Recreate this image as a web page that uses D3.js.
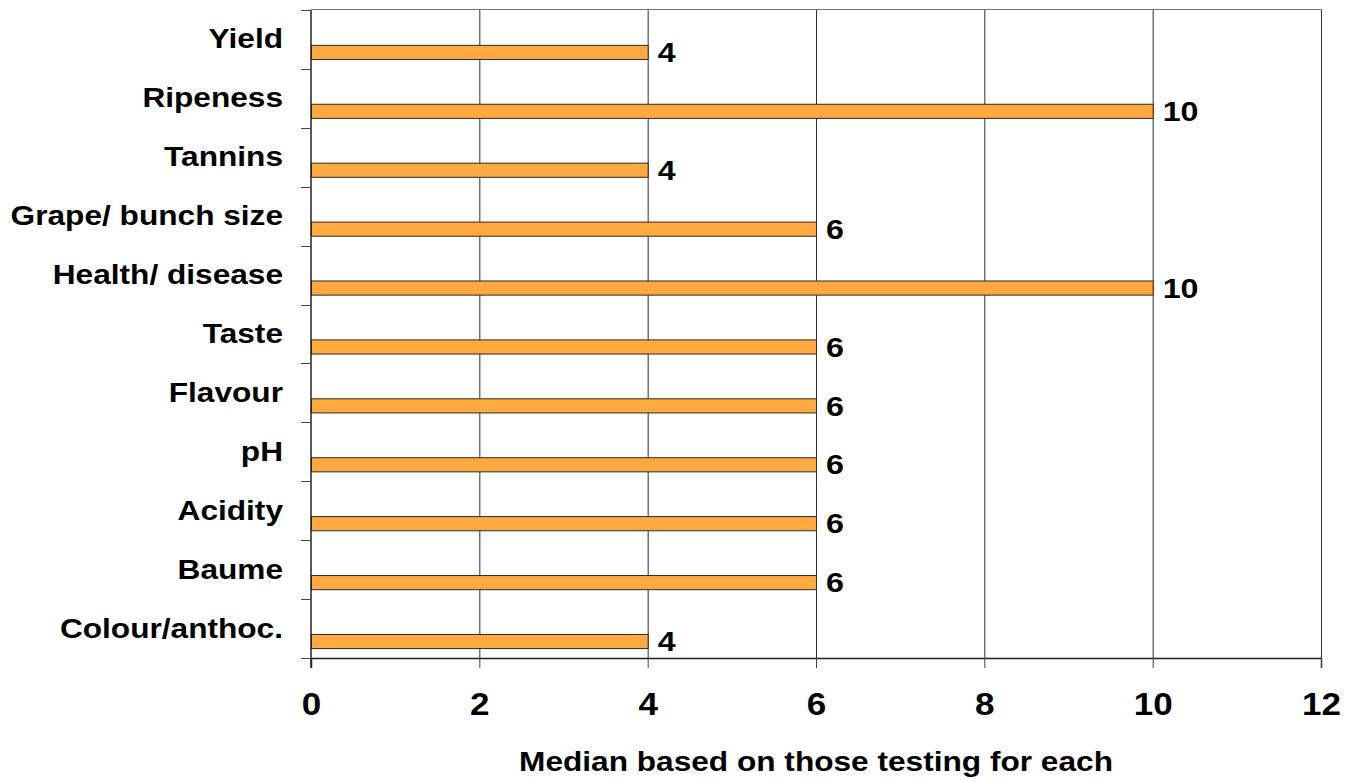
<!DOCTYPE html>
<html>
<head>
<meta charset="utf-8">
<script src="https://cdn.jsdelivr.net/npm/d3@7"></script>
<style>
  html, body { margin: 0; padding: 0; background: #fff; }
  svg { display: block; }
  text { font-family: "Liberation Sans", Arial, sans-serif; font-weight: bold; fill: #000; }
</style>
</head>
<body>
<svg id="chart" width="1351" height="781"></svg>
<script>
// Grape assessment criteria, listed top to bottom
const categories = ["Yield", "Ripeness", "Tannins", "Grape/ bunch size", "Health/ disease",
  "Taste", "Flavour", "pH", "Acidity", "Baume", "Colour/anthoc."];
const medians = [4, 10, 4, 6, 10, 6, 6, 6, 6, 6, 4];
const xTicks = [0, 2, 4, 6, 8, 10, 12];
const xTitle = "Median based on those testing for each";

const svg = d3.select("#chart");
const plot = { left: 311, right: 1321, top: 10, bottom: 658 };
const stretch = 1.13; // labels are set slightly wide

const x = d3.scaleLinear().domain([0, 12]).range([plot.left, plot.right]);
const y = d3.scaleBand().domain(categories).range([plot.top, plot.bottom]).padding(0);
const bw = y.bandwidth();

// vertical gridlines
svg.append("g")
  .selectAll("line")
  .data(xTicks.filter(t => t > 0 && t < 12))
  .join("line")
  .attr("x1", d => x(d) + 0.5).attr("x2", d => x(d) + 0.5)
  .attr("y1", plot.top).attr("y2", plot.bottom)
  .attr("stroke", "#2e2e2e").attr("stroke-width", 1);

// top and right frame
svg.append("line")
  .attr("x1", plot.left).attr("x2", plot.right + 0.5)
  .attr("y1", plot.top - 0.5).attr("y2", plot.top - 0.5)
  .attr("stroke", "#777").attr("stroke-width", 1.2);
svg.append("line")
  .attr("x1", plot.right + 0.5).attr("x2", plot.right + 0.5)
  .attr("y1", plot.top).attr("y2", plot.bottom)
  .attr("stroke", "#333").attr("stroke-width", 1);

// bars
svg.append("g")
  .selectAll("rect")
  .data(categories)
  .join("rect")
  .attr("x", x(0) + 0.5)
  .attr("y", d => y(d) + bw * 0.6)
  .attr("width", (d, i) => x(medians[i]) - x(0))
  .attr("height", bw * 0.24)
  .attr("fill", "#FFA940")
  .attr("stroke", "#2b2b2b")
  .attr("stroke-width", 1);

// value labels
svg.append("g")
  .selectAll("text")
  .data(categories)
  .join("text")
  .attr("transform", (d, i) => `translate(${x(medians[i]) + 10},${y(d) + bw * 0.72}) scale(${stretch},1)`)
  .attr("dy", "0.34em")
  .attr("font-size", 28.5)
  .text((d, i) => medians[i]);

// x axis
const xAxis = svg.append("g")
  .attr("transform", `translate(0,${plot.bottom})`)
  .call(d3.axisBottom(x).tickValues(xTicks).tickSize(10).tickPadding(25).tickFormat(d3.format("d")));
xAxis.select(".domain").attr("stroke", "#222").attr("stroke-width", 1.5);
xAxis.selectAll(".tick line").attr("stroke", "#444");
xAxis.selectAll(".tick text")
  .attr("transform", `scale(${stretch},1)`)
  .attr("font-size", 31)
  .attr("font-family", "Liberation Sans, Arial, sans-serif")
  .attr("font-weight", "bold")
  .attr("fill", "#000");

// y axis: ticks at band boundaries, labels at band centres
const yAxisG = svg.append("g");
yAxisG.append("line")
  .attr("x1", plot.left).attr("x2", plot.left)
  .attr("y1", plot.top).attr("y2", plot.bottom + 10)
  .attr("stroke", "#222").attr("stroke-width", 1.5);
const boundaries = categories.map(c => y(c)).concat([plot.bottom]);
yAxisG.selectAll("line.tick")
  .data(boundaries)
  .join("line")
  .attr("class", "tick")
  .attr("x1", plot.left - 10).attr("x2", plot.left)
  .attr("y1", d => Math.round(d) + 0.5).attr("y2", d => Math.round(d) + 0.5)
  .attr("stroke", "#444");
yAxisG.selectAll("text")
  .data(categories)
  .join("text")
  .attr("transform", d => `translate(283,${y(d) + bw / 2}) scale(${stretch},1)`)
  .attr("dy", "0.32em")
  .attr("text-anchor", "end")
  .attr("font-size", 28)
  .text(d => d);

// x axis title
svg.append("text")
  .attr("transform", `translate(${(plot.left + plot.right) / 2},771) scale(${stretch},1)`)
  .attr("text-anchor", "middle")
  .attr("font-size", 28)
  .text(xTitle);
</script>
</body>
</html>
